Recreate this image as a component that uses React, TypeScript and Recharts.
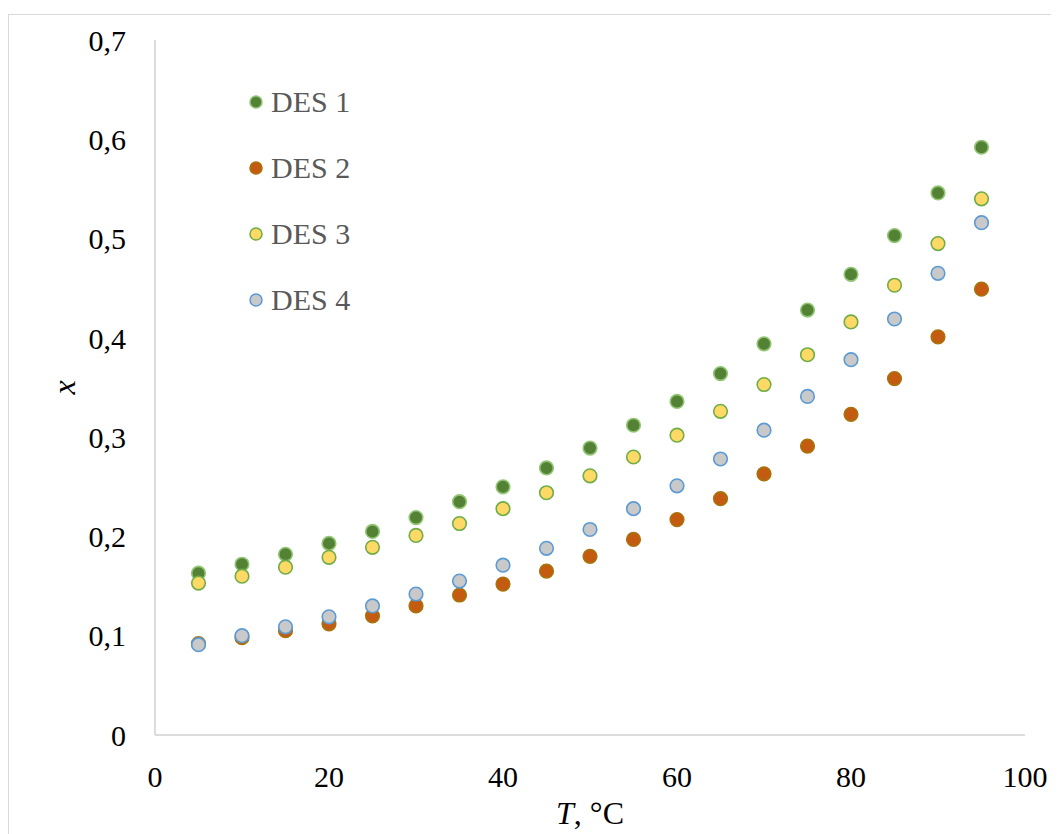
import { ScatterChart, Scatter, XAxis, YAxis, Label } from "recharts";

const temps = [5, 10, 15, 20, 25, 30, 35, 40, 45, 50, 55, 60, 65, 70, 75, 80, 85, 90, 95];
const des1 = [0.163, 0.172, 0.182, 0.193, 0.205, 0.219, 0.235, 0.25, 0.269, 0.289, 0.312, 0.336, 0.364, 0.394, 0.428, 0.464, 0.503, 0.546, 0.592];
const des2 = [0.092, 0.098, 0.105, 0.112, 0.12, 0.13, 0.141, 0.152, 0.165, 0.18, 0.197, 0.217, 0.238, 0.263, 0.291, 0.323, 0.359, 0.401, 0.449];
const des3 = [0.153, 0.16, 0.169, 0.179, 0.189, 0.201, 0.213, 0.228, 0.244, 0.261, 0.28, 0.302, 0.326, 0.353, 0.383, 0.416, 0.453, 0.495, 0.54];
const des4 = [0.091, 0.1, 0.109, 0.119, 0.13, 0.142, 0.155, 0.171, 0.188, 0.207, 0.228, 0.251, 0.278, 0.307, 0.341, 0.378, 0.419, 0.465, 0.516];

const xTicks = [0, 20, 40, 60, 80, 100];
const yTicks = [0, 0.1, 0.2, 0.3, 0.4, 0.5, 0.6, 0.7];

const series = [
  { name: "DES 1", values: des1, fill: "#548235", stroke: "#92c675" },
  { name: "DES 2", values: des2, fill: "#c55a11", stroke: "#a8720c" },
  { name: "DES 3", values: des3, fill: "#ffd966", stroke: "#70ad47" },
  { name: "DES 4", values: des4, fill: "#c9c9c9", stroke: "#5b9bd5" },
];

const FONT = "'Liberation Serif', 'Times New Roman', serif";
const AXIS = "#d0d0d0";

const toPoints = (values: number[]) => temps.map((t, i) => ({ t, x: values[i] }));

function dot(fill: string, stroke: string) {
  return (props: any) => (
    <circle cx={props.cx} cy={props.cy} r={6.8} fill={fill} stroke={stroke} strokeWidth={1.6} />
  );
}

// legend sits inside the plot, so it's drawn as an overlay instead of <Legend>
function LegendBox() {
  return (
    <div
      style={{
        position: "absolute",
        left: 239,
        top: 54,
        fontFamily: FONT,
        fontSize: 30,
        color: "#595959",
      }}
    >
      {series.map((s) => (
        <div key={s.name} style={{ height: 66, display: "flex", alignItems: "center" }}>
          <svg width={16} height={16} style={{ marginRight: 7 }}>
            <circle cx={8} cy={8} r={6} fill={s.fill} stroke={s.stroke} strokeWidth={1.5} />
          </svg>
          <span>{s.name}</span>
        </div>
      ))}
    </div>
  );
}

export default function App() {
  return (
    <div
      style={{
        position: "relative",
        marginTop: 6,
        width: 1050,
        height: 819,
        borderLeft: "1px solid #d9d9d9",
        borderTop: "1px solid #d9d9d9",
      }}
    >
      <ScatterChart
        width={1050}
        height={819}
        margin={{ top: 25, right: 34, bottom: 19, left: 66 }}
      >
        <XAxis
          type="number"
          dataKey="t"
          domain={[0, 100]}
          ticks={xTicks}
          height={80}
          tickLine={false}
          tickSize={0}
          tickMargin={31}
          axisLine={{ stroke: AXIS, strokeWidth: 1.5 }}
          tick={{ fill: "#000", fontFamily: FONT, fontSize: 30 }}
        >
          <Label
            content={(p: any) => {
              const vb = p.viewBox;
              return (
                <text
                  x={vb.x + vb.width / 2}
                  y={vb.y + 78}
                  textAnchor="middle"
                  dominantBaseline="central"
                  fontFamily={FONT}
                  fontSize={32}
                  fill="#000"
                >
                  <tspan fontStyle="italic">T</tspan>, °C
                </text>
              );
            }}
          />
        </XAxis>
        <YAxis
          type="number"
          dataKey="x"
          domain={[0, 0.7]}
          ticks={yTicks}
          width={80}
          tickLine={false}
          tickSize={0}
          tickMargin={29}
          axisLine={{ stroke: AXIS, strokeWidth: 1.5 }}
          tick={{ fill: "#000", fontFamily: FONT, fontSize: 30 }}
          tickFormatter={(v: number) => String(Math.round(v * 10) / 10).replace(".", ",")}
        >
          <Label
            content={(p: any) => {
              const vb = p.viewBox;
              const cx = vb.x - 11;
              const cy = vb.y + vb.height / 2;
              return (
                <text
                  x={cx}
                  y={cy}
                  transform={`rotate(-90, ${cx}, ${cy})`}
                  textAnchor="middle"
                  dominantBaseline="central"
                  fontFamily={FONT}
                  fontStyle="italic"
                  fontSize={32}
                  fill="#000"
                >
                  x
                </text>
              );
            }}
          />
        </YAxis>
        {series.map((s) => (
          <Scatter
            key={s.name}
            name={s.name}
            data={toPoints(s.values)}
            fill={s.fill}
            shape={dot(s.fill, s.stroke)}
            isAnimationActive={false}
          />
        ))}
      </ScatterChart>
      <LegendBox />
    </div>
  );
}
